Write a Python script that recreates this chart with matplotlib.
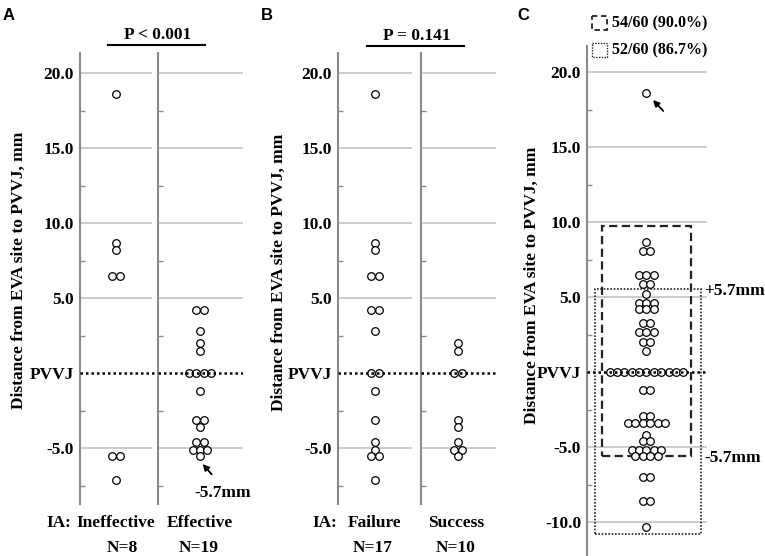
import numpy as np
import matplotlib
matplotlib.use("Agg")
import matplotlib.pyplot as plt
from matplotlib.patches import Rectangle

plt.rcParams['font.family'] = ['Liberation Serif', 'DejaVu Serif']
plt.rcParams['font.weight'] = 'bold'

W, H = 765, 556
PX = 15.0  # pixels per mm on the y axis

# Distance from EVA site to PVVJ, mm
ineffective = [18.6, 8.7, 8.2, 6.5, 6.5, -5.5, -5.5, -7.1]
effective = [4.2, 4.2, 2.8, 2.0, 1.5, 0.0, 0.0, 0.0, 0.0, -1.2, -3.1, -3.1,
             -3.6, -4.6, -4.6, -5.1, -5.1, -5.1, -5.5]
failure = [18.6, 8.7, 8.2, 6.5, 6.5, 4.2, 4.2, 2.8, 0.0, 0.0, -1.2, -3.1,
           -4.6, -5.1, -5.5, -5.5, -7.1]
success = [2.0, 1.5, 0.0, 0.0, -3.1, -3.6, -4.6, -5.1, -5.1, -5.5]
all_cases = ([18.6, 8.7] + [8.1] * 2 + [6.5] * 3 + [5.9] * 2 + [5.2] + [4.6] * 3
             + [4.2] * 3 + [3.3] * 2 + [2.7] * 3 + [2.0] * 2 + [1.4] + [0.0] * 11
             + [-1.2] * 2 + [-2.9] * 2 + [-3.4] * 6 + [-4.2] + [-4.6] * 2
             + [-5.2] * 5 + [-5.6] * 4 + [-7.0] * 2 + [-8.6] * 2 + [-10.3])

major_ab = [-5, 0, 5, 10, 15, 20]
major_c = [-10, -5, 0, 5, 10, 15, 20]
minor_ticks = [-12.5, -7.5, -2.5, 2.5, 7.5, 12.5, 17.5]

GRID = '#c8c8c8'
SPINE = '#8a8a8a'


def fmt(v):
    return 'PVVJ' if v == 0 else '%.1f' % v


def swarm_x(values, center, step=7.35):
    vals = np.round(np.asarray(values, float), 1)
    xs = np.empty(len(vals))
    for v in np.unique(vals):
        idx = np.where(vals == v)[0]
        n = len(idx)
        xs[idx] = center + (np.arange(n) - (n - 1) / 2) * step
    return xs, vals


def make_ax(x0, x1, y0, y1, y_zero, major, labels=True, grid_end=None):
    ax = fig.add_axes([x0 / W, 1 - y1 / H, (x1 - x0) / W, (y1 - y0) / H])
    lo, hi = (y_zero - y1) / PX, (y_zero - y0) / PX
    ax.patch.set_alpha(0)
    for s in ['top', 'right', 'bottom']:
        ax.spines[s].set_visible(False)
    ax.spines['left'].set_color(SPINE)
    ax.spines['left'].set_linewidth(1.5)
    ax.set_xticks([])
    ax.set_yticks(major)
    ax.set_yticks([m for m in minor_ticks if lo < m < hi], minor=True)
    if labels:
        ax.set_yticklabels([fmt(v) for v in major])
    else:
        ax.set_yticklabels([])
    ax.set_xlim(x0, x1)
    ax.set_ylim(lo, hi)
    ax.tick_params(axis='y', which='major', length=0, pad=4.5, labelsize=12.5)
    ax.tick_params(axis='y', which='minor', length=3.5, width=1,
                   direction='in', color=SPINE)
    ge = x1 if grid_end is None else grid_end
    ax.hlines([v for v in major if v != 0], x0, ge, colors=GRID, lw=1.3, zorder=1)
    return ax


def dots(ax, values, center):
    xs, ys = swarm_x(values, center)
    ax.scatter(xs, ys, s=30, facecolors='white', edgecolors='black',
               linewidths=0.9, zorder=3, clip_on=False)


fig = plt.figure(figsize=(W / 100, H / 100), dpi=100)

# Panel A
a1 = make_ax(80, 158.3, 53, 503.5, 373, major_ab, grid_end=151.7)
a2 = make_ax(158.3, 242.7, 53, 503.5, 373, major_ab, labels=False)
dots(a1, ineffective, 116)
dots(a2, effective, 200)
a1.hlines(0, 80, 158.3, colors='k', linestyles=(0, (1, 1.2)), lw=1.8, zorder=4)
a2.hlines(0, 158.3, 242.7, colors='k', linestyles=(0, (1, 1.2)), lw=1.8, zorder=4)

# Panel B
b1 = make_ax(338.3, 421, 53, 503.5, 373, major_ab, grid_end=412)
b2 = make_ax(421, 496, 53, 503.5, 373, major_ab, labels=False)
dots(b1, failure, 375)
dots(b2, success, 458)
b1.hlines(0, 338.3, 421, colors='k', linestyles=(0, (1, 1.2)), lw=1.8, zorder=4)
b2.hlines(0, 421, 496, colors='k', linestyles=(0, (1, 1.2)), lw=1.8, zorder=4)

# Panel C
c = make_ax(587.3, 706.7, 46, 556, 372, major_c)
dots(c, all_cases, 646.5)
c.hlines(0, 587.3, 708, colors='k', linestyles=(0, (1, 1.2)), lw=1.8,
         zorder=4, clip_on=False)
c.add_patch(Rectangle((601.7, -5.6), 691 - 601.7, 9.75 + 5.6, fill=False,
                      ec='#222222', lw=1.6, ls=(0, (3.7, 2)), zorder=2))
c.add_patch(Rectangle((595, -10.8), 701 - 595, 5.55 + 10.8, fill=False,
                      ec='#222222', lw=1.2, ls=(0, (1, 1)), zorder=2))

# overlay for texts and annotations
ov = fig.add_axes([0, 0, 1, 1])
ov.set_xlim(0, W)
ov.set_ylim(H, 0)
ov.axis('off')

for lab, x in [('A', 9), ('B', 267), ('C', 523)]:
    ov.text(x, 15, lab, ha='center', va='center', fontsize=12,
            family=['Liberation Sans', 'DejaVu Sans'], fontweight='bold')

ylab = 'Distance from EVA site to PVVJ, mm'
for x, y in [(19, 270), (279, 272), (532, 285)]:
    ov.text(x, y, ylab, rotation=90, ha='center', va='center', fontsize=12.5)

# p-value bars
ov.plot([107.7, 205], [45.4, 45.4], color='k', lw=1.5)
ov.text(158, 35, 'P < 0.001', ha='center', va='center', fontsize=12.5)
ov.plot([367.3, 464.3], [46, 46], color='k', lw=1.5)
ov.text(417, 36, 'P = 0.141', ha='center', va='center', fontsize=12.5)

# group labels
row1, row2 = 523, 548
ov.text(59, row1, 'IA:', ha='center', va='center', fontsize=12.5)
ov.text(116, row1, 'Ineffective', ha='center', va='center', fontsize=12.5)
ov.text(122, row2, 'N=8', ha='center', va='center', fontsize=12.5)
ov.text(200, row1, 'Effective', ha='center', va='center', fontsize=12.5)
ov.text(199, row2, 'N=19', ha='center', va='center', fontsize=12.5)
ov.text(324.5, row1, 'IA:', ha='center', va='center', fontsize=12.5)
ov.text(374.5, row1, 'Failure', ha='center', va='center', fontsize=12.5)
ov.text(373, row2, 'N=17', ha='center', va='center', fontsize=12.5)
ov.text(456.5, row1, 'Success', ha='center', va='center', fontsize=12.5)
ov.text(456, row2, 'N=10', ha='center', va='center', fontsize=12.5)

# -5.7 mm marks
ov.text(194.3, 493, '-5.7mm', ha='left', va='center', fontsize=12.5)
ov.text(704, 291, '+5.7mm', ha='left', va='center', fontsize=12.5)
ov.text(704, 457.5, '-5.7mm', ha='left', va='center', fontsize=12.5)

arrow = dict(arrowstyle='-|>', color='k', lw=1.3, mutation_scale=9,
             shrinkA=0, shrinkB=0)
ov.annotate('', xy=(202.7, 464), xytext=(211.7, 474.3), arrowprops=arrow)
ov.annotate('', xy=(653, 100), xytext=(663.3, 111), arrowprops=arrow)

# legend in panel C
ov.add_patch(Rectangle((592, 16), 15, 14, fill=False, ec='#222222', lw=1.3,
                       ls=(0, (3, 2))))
ov.add_patch(Rectangle((592, 43), 15, 14, fill=False, ec='#222222', lw=1.0,
                       ls=(0, (1, 1))))
ov.text(612, 23, '54/60 (90.0%)', ha='left', va='center', fontsize=11.5)
ov.text(612, 50, '52/60 (86.7%)', ha='left', va='center', fontsize=11.5)

fig.savefig('out.png', dpi=100)
